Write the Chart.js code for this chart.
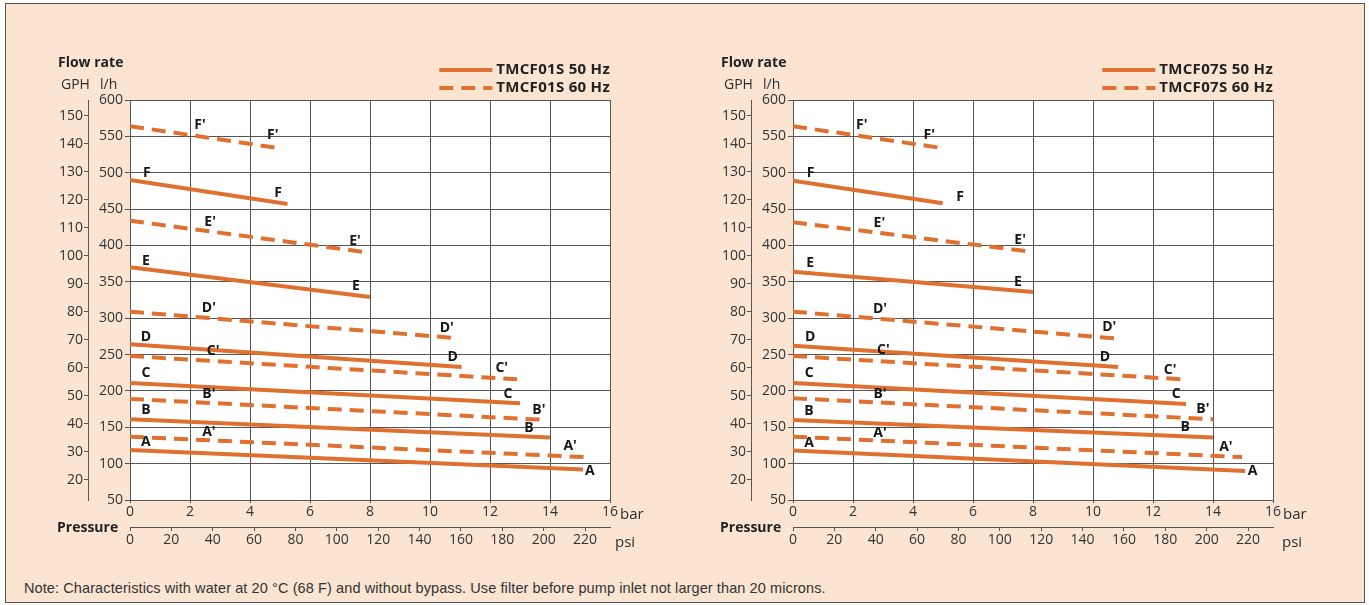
<!DOCTYPE html>
<html>
<head>
<meta charset="utf-8">
<script src="https://cdn.jsdelivr.net/npm/chart.js@4.4.1/dist/chart.umd.min.js"></script>
<style>
  html, body { margin: 0; padding: 0; background: #fff; }
  body { width: 1369px; height: 605px; position: relative; overflow: hidden; font-family: 'Open Sans', sans-serif; color: #2d2d2d; }
  .frame { position: absolute; left: 5px; top: 3px; width: 1360px; height: 600px; background: #fbe4d2; border: 1px solid #555; box-sizing: border-box; }
  canvas { position: absolute; top: 0; }
  .lbl { position: absolute; white-space: nowrap; line-height: 1; transform: translateY(-50%); font-size: 14px; }
  .b { font-weight: 700; font-size: 14px; color: #222; }
  .note { position: absolute; left: 24px; top: 588px; transform: translateY(-50%); font-family: 'Liberation Sans', Arial, sans-serif; font-size: 14.5px; letter-spacing: 0.1px; color: #333; white-space: nowrap; }
</style>
</head>
<body>
<div class="frame"></div>

<canvas id="chart01" width="680" height="570" style="left:0px"></canvas>
<canvas id="chart07" width="680" height="570" style="left:663px"></canvas>

<div class="lbl b" style="left:58px;top:62px">Flow rate</div>
<div class="lbl" style="left:61px;top:84px">GPH</div>
<div class="lbl" style="left:100px;top:84px">l/h</div>
<div class="lbl b" style="left:57px;top:527px">Pressure</div>
<div class="lbl" style="left:620px;top:513px;font-size:15px">bar</div>
<div class="lbl" style="left:615px;top:541px;font-size:15px">psi</div>

<div class="lbl b" style="left:721px;top:62px">Flow rate</div>
<div class="lbl" style="left:724px;top:84px">GPH</div>
<div class="lbl" style="left:763px;top:84px">l/h</div>
<div class="lbl b" style="left:720px;top:527px">Pressure</div>
<div class="lbl" style="left:1283px;top:513px;font-size:15px">bar</div>
<div class="lbl" style="left:1282px;top:541px;font-size:15px">psi</div>

<div class="note">Note: Characteristics with water at 20 °C (68 F) and without bypass. Use filter before pump inlet not larger than 20 microns.</div>

<script>
// curve names, bottom to top
const curves = ['A', 'B', 'C', 'D', 'E', 'F'];

// axis ticks
const barTicks = [0, 2, 4, 6, 8, 10, 12, 14, 16];
const psiTicks = [0, 20, 40, 60, 80, 100, 120, 140, 160, 180, 200, 220];
const lphTicks = [50, 100, 150, 200, 250, 300, 350, 400, 450, 500, 550, 600];
const gphTicks = [20, 30, 40, 50, 60, 70, 80, 90, 100, 110, 120, 130, 140, 150];
const BAR_TO_PSI = 14.5038;
const gphMin = 12.7, gphMax = 155.6;

// TMCF01S: flow (l/h) at 0 bar, end pressure (bar), flow at end pressure
const hz50Start01 = [118.6, 161, 211, 264, 370, 490];
const hz50EndBar01 = [15.1, 14, 13, 11.05, 8, 5.25];
const hz50End01 = [92, 136, 183, 233, 329, 457];
const hz60Start01 = [137, 189, 248, 309, 434, 564];
const hz60EndBar01 = [15.15, 13.9, 12.9, 10.75, 8, 4.93];
const hz60End01 = [109, 160, 216, 273, 390, 534];

// TMCF07S
const hz50Start07 = [118, 160, 211, 262, 364, 489];
const hz50EndBar07 = [15.07, 14, 13.1, 10.84, 8, 4.99];
const hz50End07 = [90, 136, 182, 233, 336, 458];
const hz60Start07 = [137, 190, 248, 309, 432, 564];
const hz60EndBar07 = [14.97, 14.01, 12.95, 10.79, 8, 4.96];
const hz60End07 = [109, 161, 216, 272, 391, 534];

// curve letter anchors [bar, l/h]
const lab50a01 = [[0.53, 129.8], [0.53, 173.7], [0.53, 224.6], [0.53, 274], [0.53, 378.6], [0.56, 500]];
const lab50b01 = [[15.33, 90.3], [13.3, 149], [12.6, 195.8], [10.76, 247], [7.53, 344.7], [4.94, 472.5]];
const lab60a01 = [[2.63, 143.5], [2.63, 195.8], [2.77, 255], [2.63, 314], [2.67, 432.7], [2.33, 565.6]];
const lab60b01 = [[14.67, 124.3], [13.63, 173.7], [12.39, 231.5], [10.56, 286.5], [7.5, 406], [4.76, 551.9]];

const lab50a07 = [[0.54, 128.8], [0.53, 172.8], [0.54, 224.2], [0.57, 273.7], [0.57, 375.4], [0.59, 499.2]];
const lab50b07 = [[15.32, 90.3], [13.07, 150.8], [12.77, 195.8], [10.4, 246], [7.5, 349.7], [5.57, 467]];
const lab60a07 = [[2.9, 142.5], [2.9, 195.8], [3.01, 256.3], [2.9, 312], [2.88, 431.3], [2.29, 565.6]];
const lab60b07 = [[14.43, 123.3], [13.66, 174.7], [12.57, 228.8], [10.54, 287.4], [7.57, 407.5], [4.54, 551.9]];

const ORANGE = '#e0702f';
const GRID = '#555';
const TXT = '#333';
const FONT = "'Open Sans', sans-serif";
const DASH = [14, 8];

// white plot area
const plotBg = {
    id: 'plotBg',
    beforeDraw(chart) {
        const a = chart.chartArea;
        chart.ctx.save();
        chart.ctx.fillStyle = '#fff';
        chart.ctx.fillRect(a.left, a.top, a.right - a.left, a.bottom - a.top);
        chart.ctx.restore();
    }
};

// letters next to the curves
const curveLabels = {
    id: 'curveLabels',
    afterDatasetsDraw(chart, args, opts) {
        const ctx = chart.ctx;
        const xs = chart.scales.x, ys = chart.scales.y;
        ctx.save();
        ctx.font = 'bold 14px ' + FONT;
        ctx.fillStyle = '#151515';
        ctx.textAlign = 'center';
        ctx.textBaseline = 'middle';
        opts.groups.forEach(g => {
            g.pos.forEach((p, i) => {
                ctx.fillText(curves[i] + g.suffix, xs.getPixelForValue(p[0]), ys.getPixelForValue(p[1]));
            });
        });
        ctx.restore();
    }
};

// two-row legend, right aligned to the plot
const pumpLegend = {
    id: 'pumpLegend',
    afterDraw(chart, args, opts) {
        const ctx = chart.ctx;
        const right = chart.chartArea.right;
        ctx.save();
        ctx.font = 'bold 15px ' + FONT;
        ctx.letterSpacing = '0.3px';
        ctx.textBaseline = 'middle';
        ctx.textAlign = 'left';
        opts.items.forEach((it, i) => {
            const y = 70 + i * 18;
            const w = ctx.measureText(it.text).width;
            const tx = right - w;
            ctx.fillStyle = '#222';
            ctx.fillText(it.text, tx, y);
            ctx.strokeStyle = ORANGE;
            ctx.lineWidth = 4;
            ctx.setLineDash(it.dash);
            ctx.beginPath();
            ctx.moveTo(tx - 57, y);
            ctx.lineTo(tx - 4, y);
            ctx.stroke();
        });
        ctx.restore();
    }
};

function makeSets(s50, eb50, e50, s60, eb60, e60) {
    const sets = [];
    curves.forEach((c, i) => {
        sets.push({
            label: c,
            data: [{ x: 0, y: s50[i] }, { x: eb50[i], y: e50[i] }],
            borderColor: ORANGE, borderWidth: 4, pointRadius: 0, borderCapStyle: 'butt'
        });
    });
    curves.forEach((c, i) => {
        sets.push({
            label: c + "'",
            data: [{ x: 0, y: s60[i] }, { x: eb60[i], y: e60[i] }],
            borderColor: ORANGE, borderWidth: 4, pointRadius: 0, borderDash: DASH, borderCapStyle: 'butt'
        });
    });
    return sets;
}

function tickFont() {
    return { family: FONT, size: 14 };
}

function makeChart(id, model, sets, labelGroups) {
    new Chart(document.getElementById(id), {
        type: 'line',
        data: { datasets: sets },
        options: {
            responsive: false,
            animation: false,
            events: [],
            layout: { padding: { left: 0, top: 100, right: 70, bottom: 13 } },
            plugins: {
                legend: { display: false },
                tooltip: { enabled: false },
                curveLabels: { groups: labelGroups },
                pumpLegend: {
                    items: [
                        { text: model + ' 50 Hz', dash: [] },
                        { text: model + ' 60 Hz', dash: DASH }
                    ]
                }
            },
            scales: {
                x: {
                    type: 'linear', position: 'bottom', min: 0, max: 16, weight: 0, display: true,
                    afterBuildTicks: s => { s.ticks = barTicks.map(v => ({ value: v })); },
                    afterFit: s => { s.height = 27; },
                    grid: { color: GRID, lineWidth: 1, tickLength: 3 },
                    border: { color: GRID, width: 1 },
                    ticks: { color: TXT, font: tickFont(), padding: 1, maxRotation: 0 }
                },
                psi: {
                    type: 'linear', position: 'bottom', min: 0, max: 16 * BAR_TO_PSI, weight: 1, display: true,
                    afterBuildTicks: s => { s.ticks = psiTicks.map(v => ({ value: v })); },
                    afterFit: s => { s.height = 30; },
                    grid: { drawOnChartArea: false, color: GRID, tickLength: 4 },
                    border: { color: GRID, width: 1 },
                    ticks: { color: TXT, font: tickFont(), padding: 1, maxRotation: 0 }
                },
                y: {
                    type: 'linear', position: 'left', min: 50, max: 600, weight: 0, display: true,
                    afterBuildTicks: s => { s.ticks = lphTicks.map(v => ({ value: v })); },
                    afterFit: s => { s.width = 42; },
                    grid: { color: GRID, lineWidth: 1, tickLength: 5 },
                    border: { color: GRID, width: 1 },
                    ticks: { color: TXT, font: tickFont(), padding: 2 }
                },
                gph: {
                    type: 'linear', position: 'left', min: gphMin, max: gphMax, weight: 1, display: true,
                    afterBuildTicks: s => { s.ticks = gphTicks.map(v => ({ value: v })); },
                    afterFit: s => { s.width = 88; },
                    grid: { drawOnChartArea: false, color: GRID, tickLength: 4 },
                    border: { color: GRID, width: 1 },
                    ticks: { color: TXT, font: tickFont(), padding: 1 }
                }
            }
        },
        plugins: [plotBg, curveLabels, pumpLegend]
    });
}

makeChart('chart01', 'TMCF01S',
    makeSets(hz50Start01, hz50EndBar01, hz50End01, hz60Start01, hz60EndBar01, hz60End01),
    [
        { suffix: '', pos: lab50a01 }, { suffix: '', pos: lab50b01 },
        { suffix: "'", pos: lab60a01 }, { suffix: "'", pos: lab60b01 }
    ]);

makeChart('chart07', 'TMCF07S',
    makeSets(hz50Start07, hz50EndBar07, hz50End07, hz60Start07, hz60EndBar07, hz60End07),
    [
        { suffix: '', pos: lab50a07 }, { suffix: '', pos: lab50b07 },
        { suffix: "'", pos: lab60a07 }, { suffix: "'", pos: lab60b07 }
    ]);
</script>
</body>
</html>
